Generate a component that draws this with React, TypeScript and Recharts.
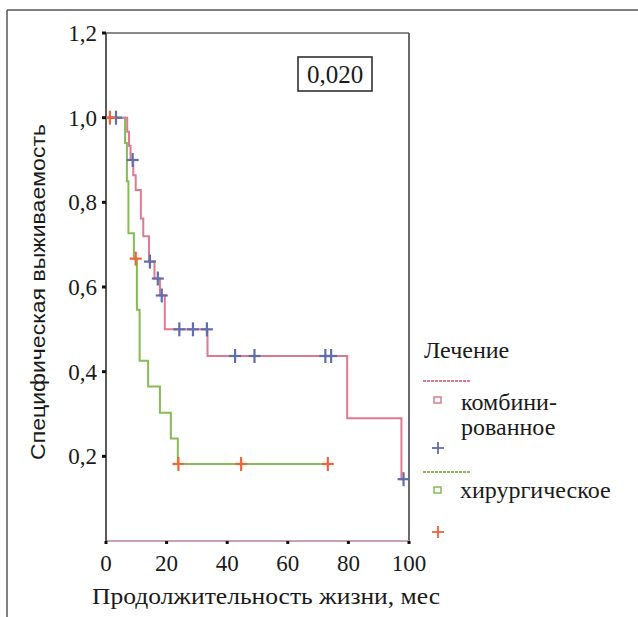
import React from "react";
import {
  ComposedChart,
  Line,
  Scatter,
  XAxis,
  YAxis,
  ReferenceLine,
} from "recharts";

// Combined treatment (комбинированное) – Kaplan–Meier steps
const combinedTimes = [0, 7.0, 7.6, 8.1, 9.0, 9.8, 11.5, 12.3, 14.2, 16.0, 17.8, 19.4, 33.5, 79.6, 97.5, 98.2];
const combinedSurv = [1.0, 0.967, 0.933, 0.9, 0.864, 0.829, 0.762, 0.72, 0.66, 0.62, 0.58, 0.5, 0.437, 0.29, 0.146, 0.146];
// censored observations (blue +)
const combinedCensT = [3.3, 8.8, 14.5, 17.1, 18.4, 24.2, 28.7, 33.3, 42.6, 49.0, 72.4, 74.3, 98.2];
const combinedCensS = [1.0, 0.9, 0.66, 0.62, 0.58, 0.5, 0.5, 0.5, 0.437, 0.437, 0.437, 0.437, 0.146];

// Surgical treatment (хирургическое)
const surgicalTimes = [0, 6.3, 6.9, 7.4, 9.2, 10.2, 11.1, 13.9, 17.8, 21.4, 23.7, 73.2];
const surgicalSurv = [1.0, 0.94, 0.85, 0.727, 0.667, 0.546, 0.426, 0.365, 0.303, 0.242, 0.182, 0.182];
// censored observations (orange +)
const surgicalCensT = [1.3, 9.8, 23.9, 44.6, 73.2];
const surgicalCensS = [1.0, 0.667, 0.182, 0.182, 0.182];

const xTicks = [0, 20, 40, 60, 80, 100];
const yTicks = [0.2, 0.4, 0.6, 0.8, 1.0, 1.2];

const pValue = "0,020";
const yTitle = "Специфическая выживаемость";
const xTitle = "Продолжительность жизни, мес";
const legendTitle = "Лечение";
const legendCombined = ["комбини-", "рованное"];
const legendSurgical = "хирургическое";

const zip = (ts: number[], ss: number[]) => ts.map((t, i) => ({ t, s: ss[i] }));
const combinedData = zip(combinedTimes, combinedSurv);
const combinedCens = zip(combinedCensT, combinedCensS);
const surgicalData = zip(surgicalTimes, surgicalSurv);
const surgicalCens = zip(surgicalCensT, surgicalCensS);

const SERIF = "Liberation Serif";
const SANS = "Liberation Sans";

const RED = "#e07890";
const GREEN = "#86bb55";
const BLUE = "#5f6cae";
const ORANGE = "#f0643a";
const TXT = "#1a1a1a";

const fmt = (v: number) => v.toFixed(1).replace(".", ",");

const YTick = (props: any) => {
  const { x, y, payload } = props;
  return (
    <text x={x} y={y} dy={8} textAnchor="end" fontFamily={SERIF} fontSize={23} fill={TXT}>
      {fmt(payload.value)}
    </text>
  );
};

const XTick = (props: any) => {
  const { x, y, payload } = props;
  return (
    <text x={x} y={y} dy={25} textAnchor="middle" fontFamily={SERIF} fontSize={23} fill={TXT}>
      {String(payload.value)}
    </text>
  );
};

const Plus = (color: string) => (props: any) => {
  const { cx, cy } = props;
  if (cx == null || cy == null) return <g />;
  return (
    <g stroke={color} strokeWidth={2.2}>
      <line x1={cx - 6} y1={cy} x2={cx + 6} y2={cy} />
      <line x1={cx} y1={cy - 7} x2={cx} y2={cy + 7} />
    </g>
  );
};

const BluePlus = Plus(BLUE);
const OrangePlus = Plus(ORANGE);

export default function App() {
  return (
    <div style={{ position: "absolute", left: 0, top: 0, width: 638, height: 617, background: "#fff" }}>
      <ComposedChart
        width={638}
        height={617}
        margin={{ top: 33, right: 229, bottom: 46, left: 46 }}
      >
        <XAxis
          dataKey="t"
          type="number"
          domain={[0, 100]}
          ticks={xTicks}
          allowDataOverflow
          tickSize={3}
          tickMargin={2}
          tickLine={{ stroke: "#111", strokeWidth: 3 }}
          axisLine={{ stroke: "#c9a3ab", strokeWidth: 2 }}
          tick={<XTick />}
          height={30}
        />
        <YAxis
          type="number"
          domain={[0, 1.2]}
          ticks={yTicks}
          allowDataOverflow
          tickSize={4}
          tickMargin={5}
          tickLine={{ stroke: "#111", strokeWidth: 3 }}
          axisLine={{ stroke: "#5a5a5a", strokeWidth: 2 }}
          tick={<YTick />}
          width={60}
        />
        <ReferenceLine y={1.2} stroke="#8a8a8a" strokeWidth={2} />
        <ReferenceLine x={100} stroke="#6a6a6a" strokeWidth={2} />
        <Line
          data={surgicalData}
          dataKey="s"
          type="stepAfter"
          stroke={GREEN}
          strokeWidth={2}
          dot={false}
          activeDot={false}
          isAnimationActive={false}
        />
        <Line
          data={combinedData}
          dataKey="s"
          type="stepAfter"
          stroke={RED}
          strokeWidth={2}
          dot={false}
          activeDot={false}
          isAnimationActive={false}
        />
        <Scatter data={combinedCens} dataKey="s" shape={BluePlus} isAnimationActive={false} />
        <Scatter data={surgicalCens} dataKey="s" shape={OrangePlus} isAnimationActive={false} />
      </ComposedChart>

      <svg
        width={638}
        height={617}
        style={{ position: "absolute", left: 0, top: 0, pointerEvents: "none" }}
      >
        {/* outer frame */}
        <line x1={7} y1={10} x2={638} y2={10} stroke="#555" strokeWidth={1.5} />
        <line x1={7} y1={10} x2={7} y2={617} stroke="#555" strokeWidth={1.5} />

        {/* p-value box */}
        <rect x={298} y={57} width={74} height={34} fill="#fff" stroke="#222" strokeWidth={1.5} />
        <text x={335} y={83} textAnchor="middle" fontFamily={SERIF} fontSize={25} fill={TXT}>
          {pValue}
        </text>

        {/* axis titles */}
        <text
          x={0}
          y={0}
          transform="translate(45,292) rotate(-90)"
          textAnchor="middle"
          fontFamily={SANS}
          fontSize={21}
          fill={TXT}
          textLength={336}
          lengthAdjust="spacingAndGlyphs"
        >
          {yTitle}
        </text>
        <text
          x={266}
          y={604}
          textAnchor="middle"
          fontFamily={SERIF}
          fontSize={24}
          fill={TXT}
          textLength={348}
          lengthAdjust="spacingAndGlyphs"
        >
          {xTitle}
        </text>

        {/* legend */}
        <text x={424} y={358} fontFamily={SERIF} fontSize={24} fill={TXT}>
          {legendTitle}
        </text>
        <line x1={423} y1={381} x2={471} y2={381} stroke={RED} strokeWidth={2} strokeDasharray="3 1" />
        <rect x={434} y={397} width={7} height={6} fill="none" stroke={RED} strokeWidth={1.5} />
        <text x={461} y={410} fontFamily={SERIF} fontSize={24} fill={TXT}>
          {legendCombined[0]}
        </text>
        <text x={461} y={435} fontFamily={SERIF} fontSize={24} fill={TXT}>
          {legendCombined[1]}
        </text>
        <g stroke={BLUE} strokeWidth={1.8}>
          <line x1={432} y1={448} x2={444} y2={448} />
          <line x1={438} y1={442} x2={438} y2={454} />
        </g>
        <line x1={423} y1={472} x2={471} y2={472} stroke={GREEN} strokeWidth={2} strokeDasharray="3 1" />
        <rect x={434} y={487} width={7} height={6} fill="none" stroke={GREEN} strokeWidth={1.5} />
        <text x={460} y={498} fontFamily={SERIF} fontSize={24} fill={TXT}>
          {legendSurgical}
        </text>
        <g stroke={ORANGE} strokeWidth={1.8}>
          <line x1={432} y1={532} x2={444} y2={532} />
          <line x1={438} y1={526} x2={438} y2={538} />
        </g>
      </svg>
    </div>
  );
}
